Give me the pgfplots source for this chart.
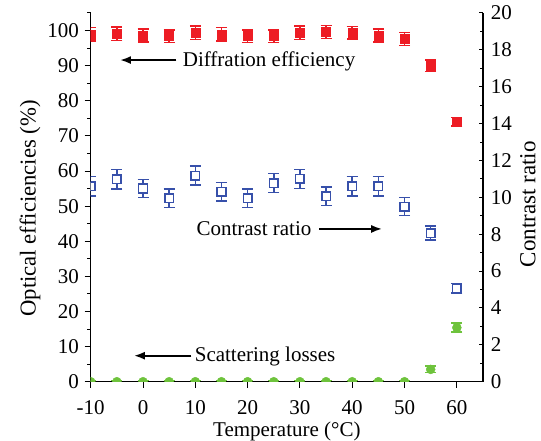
\documentclass[border=0pt]{standalone}
\usepackage{fontspec}
\setmainfont{Liberation Serif}
\usepackage{pgfplots}
\usepackage{pgfplotstable}
\pgfplotsset{compat=1.18}
\usetikzlibrary{arrows.meta}
\definecolor{dered}{RGB}{237,28,36}
\definecolor{crblue}{RGB}{55,80,170}
\definecolor{slgreen}{RGB}{110,195,60}

\pgfplotstableread{
x   de    dee  cr    cre   sl    sle
-10 98.9  1.9  10.60 0.52  0     0.3
-5  99.1  1.9  10.98 0.52  0     0.3
0   98.6  1.9  10.48 0.50  0     0.3
5   98.4  1.8  9.96  0.50  0     0.3
10  99.4  1.9  11.18 0.52  0     0.3
15  98.9  1.9  10.30 0.50  0     0.3
20  98.4  1.8  9.96  0.50  0     0.3
25  98.4  1.8  10.77 0.52  0     0.3
30  99.4  1.9  11.00 0.52  0     0.3
35  99.6  1.9  10.07 0.50  0     0.3
40  99.4  1.8  10.60 0.52  0     0.3
45  98.6  1.8  10.60 0.52  0     0.3
50  97.6  1.8  9.50  0.48  0     0.3
55  90.0  1.6  8.06  0.38  3.5   0.9
60  74.0  1.2  5.07  0.25  15.4  1.3
}\datatable

\pgfplotsset{
  common/.style={
    scale only axis, width=392.3pt, height=368.7pt,
    xmin=-10, xmax=65,
    clip marker paths=true,
    /pgf/number format/assume math mode=true,
    tick style={black, line width=1pt},
    axis line style={-, black, line width=1.2pt},
    error bars/error bar style={line width=1.5pt},
    error bars/error mark options={line width=1.5pt, mark size=5.5pt, rotate=90},
  }
}

\begin{document}
\begin{tikzpicture}[font=\fontsize{21}{25}\selectfont]
\useasboundingbox (-90.7pt,-59.3pt) rectangle (450.3pt,381.7pt);
\begin{axis}[common,
  ymin=0, ymax=105,
  axis y line*=left, axis x line*=bottom,
  xtick={-10,0,...,60}, ytick={0,10,...,100}, minor ytick={5,15,...,105},
  tick align=outside, major tick length=6pt, minor tick length=3.3pt,
  xticklabel style={anchor=base, inner sep=0pt, yshift=-27pt},
  yticklabel style={anchor=east, inner sep=0pt, xshift=-5.7pt},
  xlabel={Temperature (\textdegree C)},
  ylabel={Optical efficiencies (\%)},
  xlabel style={at={(rel axis cs:0.5,0)}, anchor=base, inner sep=0pt, yshift=-55pt},
  ylabel style={at={(axis description cs:-0.1547,0.470)}, anchor=center, inner sep=0pt,
    font=\fontsize{22.7}{26}\selectfont},
]
\addplot[only marks, mark=square*, mark size=4.5pt, color=dered,
  error bars/.cd, y dir=both, y explicit]
  table[x=x, y=de, y error=dee] {\datatable};
\addplot[only marks, mark=*, mark size=4.5pt, color=slgreen,
  error bars/.cd, y dir=both, y explicit]
  table[x=x, y=sl, y error=sle] {\datatable};
\draw[-{Latex[length=11pt,width=8pt]}, line width=2pt] (axis cs:6.38,91.6) -- (axis cs:-4.42,91.6);
\node[anchor=base west, inner sep=0pt] at (axis cs:7.58,89.8) {Diffration efficiency};
\draw[-{Latex[length=11pt,width=8pt]}, line width=2pt] (axis cs:33.68,43.5) -- (axis cs:45.73,43.5);
\node[anchor=base west, inner sep=0pt] at (axis cs:10.19,41.5) {Contrast ratio};
\draw[-{Latex[length=11pt,width=8pt]}, line width=2pt] (axis cs:9.24,7.4) -- (axis cs:-1.75,7.4);
\node[anchor=base west, inner sep=0pt] at (axis cs:9.87,5.7) {Scattering losses};
\end{axis}
\begin{axis}[common,
  ymin=0, ymax=20,
  axis y line*=right, axis x line=none,
  ytick={0,2,...,20}, minor ytick={1,3,...,19},
  tick align=inside, major tick length=4pt, minor tick length=2.5pt,
  yticklabel style={anchor=west, inner sep=0pt, xshift=7.7pt},
  ylabel={Contrast ratio},
  ylabel style={at={(axis description cs:1.1147,0.481)}, anchor=center, inner sep=0pt,
    font=\fontsize{23}{27}\selectfont},
]
\addplot[only marks, mark=square*, mark size=4.3pt, color=crblue,
  mark options={fill=white, line width=1.5pt},
  error bars/.cd, y dir=both, y explicit]
  table[x=x, y=cr, y error=cre] {\datatable};
\end{axis}
\end{tikzpicture}
\end{document}
